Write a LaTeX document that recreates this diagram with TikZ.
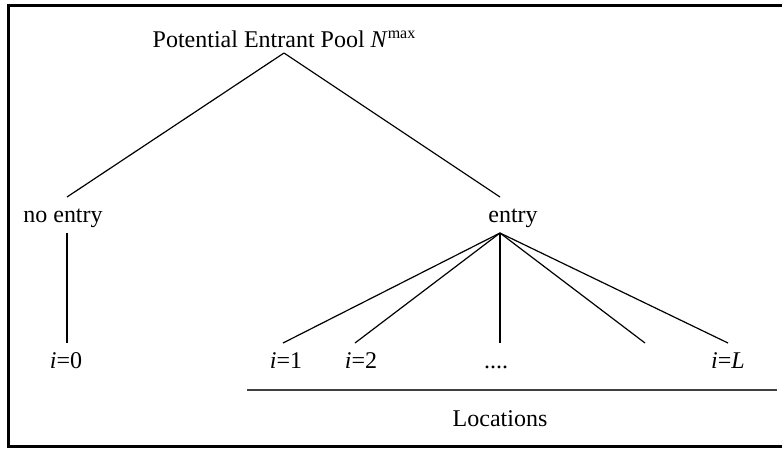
\documentclass[tikz,border=0pt]{standalone}
\usepackage{fontspec}
\setmainfont{Liberation Serif}
\usetikzlibrary{positioning}

\begin{document}
\begin{tikzpicture}[x=1pt, y=-1pt, line width=1.2pt,
    font=\fontsize{24}{28}\selectfont,
    lbl/.style={anchor=base, inner sep=0pt}]
  \useasboundingbox (0,0) rectangle (782,448);
  \draw[line width=3pt] (8,5) rectangle (800,446);

  % branch points of the tree
  \coordinate (P)  at (284,53);
  \coordinate (N0) at (67,197);
  \coordinate (N1) at (67,233);
  \coordinate (E0) at (500,197);
  \coordinate (E1) at (500,233);
  \coordinate (I0) at (67,343);
  \coordinate (I1) at (283,343);
  \coordinate (I2) at (355,343);
  \coordinate (Id) at (500,343);
  \coordinate (I4) at (645,343);
  \coordinate (IL) at (728,343);
  \coordinate (La) at (247,390);
  \coordinate (Lb) at (777,390);

  \node[lbl] (Pool)    at (284,47)  {Potential Entrant Pool \textit{N}\raisebox{9pt}{\fontsize{16}{18}\selectfont max}};
  \node[lbl] (NoEntry) at (63,222)  {no entry};
  \node[lbl] (Entry)   at (513,222) {entry};
  \node[lbl] (Loc0)    at (66,368)  {\textit{i}=0};
  \node[lbl] (Loc1)    at (286,368) {\textit{i}=1};
  \node[lbl] (Loc2)    at (361,368) {\textit{i}=2};
  \node[lbl] (LocDots) at (496,368) {....};
  \node[lbl] (LocL)    at (728,368) {\textit{i}=\textit{L}};
  \node[lbl] (Locs)    at (500,426) {Locations};

  \path (P)  edge (N0)
             edge (E0)
        (N1) edge (I0)
        (E1) edge (I1)
             edge (I2)
             edge (Id)
             edge (I4)
             edge (IL)
        ;
  \draw[line width=1.8pt, black!75] (La) -- (Lb);
\end{tikzpicture}
\end{document}
